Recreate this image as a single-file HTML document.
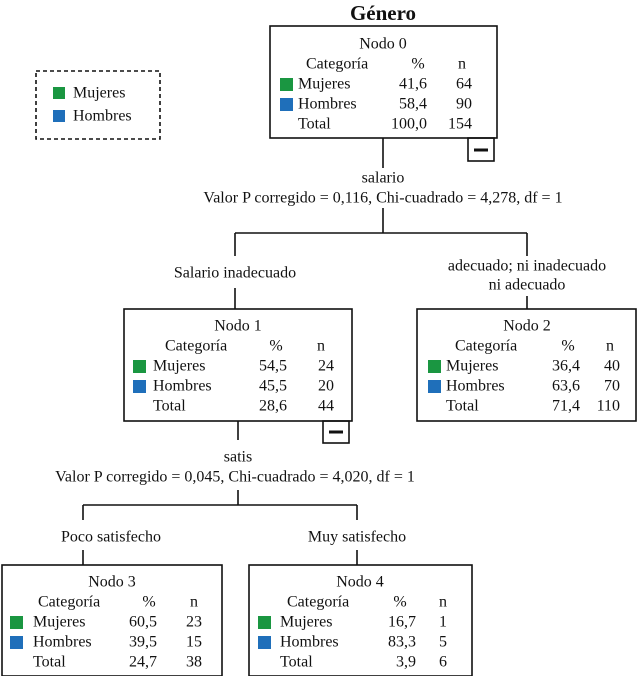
<!DOCTYPE html>
<html><head><meta charset="utf-8"><style>
body{margin:0;background:#fff}
svg text{font-family:"Liberation Serif","DejaVu Serif",serif;font-size:16px;fill:#111;dominant-baseline:central}
</style></head><body>
<svg width="640" height="676" xmlns="http://www.w3.org/2000/svg">
<g stroke="#111" stroke-width="1.6" fill="none">
<rect x="36" y="71" width="124" height="68" stroke-dasharray="4,3"/>
<rect x="270" y="26" width="227" height="112"/>
<rect x="468" y="138" width="26" height="23"/>
<rect x="124" y="309" width="228" height="112"/>
<rect x="323" y="421" width="26" height="22"/>
<rect x="417" y="309" width="219" height="112"/>
<rect x="2" y="565" width="220" height="111"/>
<rect x="249" y="565" width="223" height="111"/>
<path d="M383 138V168M383 208V233M235 233H527M235 233V256M527 233V256M235 288V309M527 296V309"/>
<path d="M238 421V440M238 490V505M83 505H357M83 505V520M357 505V520M83 550V565M357 550V565"/>
</g>
<g stroke="#111" stroke-width="3"><path d="M474 150H488M329 432H343"/></g>
<g>
<rect x="53" y="87" width="12" height="12" fill="#1a9641"/>
<rect x="53" y="110" width="12" height="12" fill="#1f6fba"/>
<text x="73" y="93">Mujeres</text><text x="73" y="116">Hombres</text>
<text x="383" y="13" text-anchor="middle" style="font-weight:bold;font-size:21px">Género</text>
</g>
<g>
<text x="383" y="44" text-anchor="middle">Nodo 0</text>
<text x="306" y="64">Categoría</text><text x="418" y="64" text-anchor="middle">%</text><text x="462" y="64" text-anchor="middle">n</text>
<rect x="280" y="78" width="13" height="13" fill="#1a9641"/><rect x="280" y="98" width="13" height="13" fill="#1f6fba"/>
<text x="298" y="84">Mujeres</text><text x="427" y="84" text-anchor="end">41,6</text><text x="472" y="84" text-anchor="end">64</text>
<text x="298" y="104">Hombres</text><text x="427" y="104" text-anchor="end">58,4</text><text x="472" y="104" text-anchor="end">90</text>
<text x="298" y="124">Total</text><text x="427" y="124" text-anchor="end">100,0</text><text x="472" y="124" text-anchor="end">154</text>
</g>
<text x="383" y="178" text-anchor="middle">salario</text>
<text x="383" y="198" text-anchor="middle">Valor P corregido = 0,116,  Chi-cuadrado = 4,278, df = 1</text>
<text x="235" y="273" text-anchor="middle">Salario inadecuado</text>
<text x="527" y="266" text-anchor="middle">adecuado; ni inadecuado</text>
<text x="527" y="285" text-anchor="middle">ni adecuado</text>
<g>
<text x="238" y="326" text-anchor="middle">Nodo 1</text>
<text x="165" y="346">Categoría</text><text x="276" y="346" text-anchor="middle">%</text><text x="321" y="346" text-anchor="middle">n</text>
<rect x="133" y="360" width="13" height="13" fill="#1a9641"/><rect x="133" y="380" width="13" height="13" fill="#1f6fba"/>
<text x="153" y="366">Mujeres</text><text x="287" y="366" text-anchor="end">54,5</text><text x="334" y="366" text-anchor="end">24</text>
<text x="153" y="386">Hombres</text><text x="287" y="386" text-anchor="end">45,5</text><text x="334" y="386" text-anchor="end">20</text>
<text x="153" y="406">Total</text><text x="287" y="406" text-anchor="end">28,6</text><text x="334" y="406" text-anchor="end">44</text>
</g>
<g>
<text x="527" y="326" text-anchor="middle">Nodo 2</text>
<text x="455" y="346">Categoría</text><text x="568" y="346" text-anchor="middle">%</text><text x="610" y="346" text-anchor="middle">n</text>
<rect x="428" y="360" width="13" height="13" fill="#1a9641"/><rect x="428" y="380" width="13" height="13" fill="#1f6fba"/>
<text x="446" y="366">Mujeres</text><text x="580" y="366" text-anchor="end">36,4</text><text x="620" y="366" text-anchor="end">40</text>
<text x="446" y="386">Hombres</text><text x="580" y="386" text-anchor="end">63,6</text><text x="620" y="386" text-anchor="end">70</text>
<text x="446" y="406">Total</text><text x="580" y="406" text-anchor="end">71,4</text><text x="620" y="406" text-anchor="end">110</text>
</g>
<text x="238" y="457" text-anchor="middle">satis</text>
<text x="235" y="477" text-anchor="middle">Valor P corregido = 0,045,  Chi-cuadrado = 4,020, df = 1</text>
<text x="111" y="537" text-anchor="middle">Poco satisfecho</text>
<text x="357" y="537" text-anchor="middle">Muy satisfecho</text>
<g>
<text x="112" y="582" text-anchor="middle">Nodo 3</text>
<text x="38" y="602">Categoría</text><text x="149" y="602" text-anchor="middle">%</text><text x="194" y="602" text-anchor="middle">n</text>
<rect x="10" y="616" width="13" height="13" fill="#1a9641"/><rect x="10" y="636" width="13" height="13" fill="#1f6fba"/>
<text x="33" y="622">Mujeres</text><text x="157" y="622" text-anchor="end">60,5</text><text x="202" y="622" text-anchor="end">23</text>
<text x="33" y="642">Hombres</text><text x="157" y="642" text-anchor="end">39,5</text><text x="202" y="642" text-anchor="end">15</text>
<text x="33" y="662">Total</text><text x="157" y="662" text-anchor="end">24,7</text><text x="202" y="662" text-anchor="end">38</text>
</g>
<g>
<text x="360" y="582" text-anchor="middle">Nodo 4</text>
<text x="287" y="602">Categoría</text><text x="400" y="602" text-anchor="middle">%</text><text x="443" y="602" text-anchor="middle">n</text>
<rect x="258" y="616" width="13" height="13" fill="#1a9641"/><rect x="258" y="636" width="13" height="13" fill="#1f6fba"/>
<text x="280" y="622">Mujeres</text><text x="416" y="622" text-anchor="end">16,7</text><text x="447" y="622" text-anchor="end">1</text>
<text x="280" y="642">Hombres</text><text x="416" y="642" text-anchor="end">83,3</text><text x="447" y="642" text-anchor="end">5</text>
<text x="280" y="662">Total</text><text x="416" y="662" text-anchor="end">3,9</text><text x="447" y="662" text-anchor="end">6</text>
</g>
</svg>
</body></html>
